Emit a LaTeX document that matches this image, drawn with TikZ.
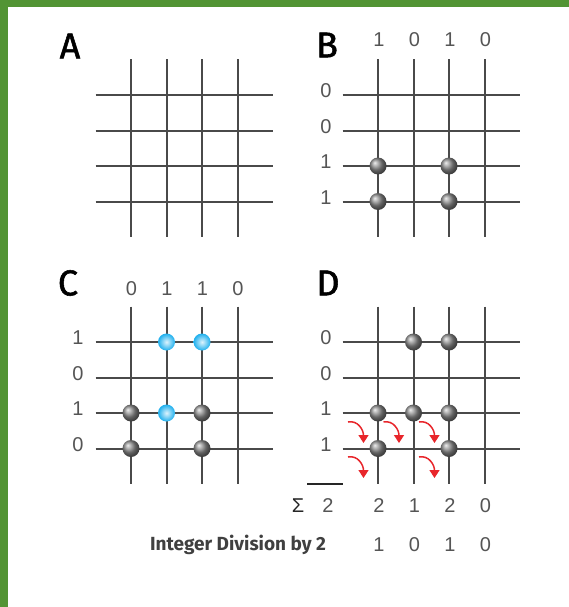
\documentclass[tikz,border=0pt]{standalone}
\usepackage{fontspec}
\setmainfont{Liberation Sans}
\newfontfamily\handfont{Fira Sans}
\newfontfamily\letterfont[FakeBold=1.5]{Fira Sans}
\usetikzlibrary{arrows.meta}
\definecolor{frame}{HTML}{529434}
\definecolor{wire}{HTML}{4A4A4A}
\definecolor{digit}{HTML}{555555}
\definecolor{bead}{HTML}{1FB0EE}
\definecolor{carry}{HTML}{E8262B}
\tikzset{
  wire/.style={draw=wire, line width=2pt},
  ball/.style={circle, inner sep=0pt, minimum size=17pt, shading=ball, ball color=gray!90},
  blueball/.style={circle, inner sep=0pt, minimum size=17pt, shading=radial, inner color=bead!15!white, outer color=bead},
  digit/.style={text=digit, font=\fontsize{20}{22}\selectfont, inner sep=0pt},
  panel/.style={font=\letterfont\fontsize{36}{40}\selectfont, inner sep=0pt},
  carryarrow/.style={draw=carry, line width=1.5pt, -{Triangle[length=8pt,width=10pt]}}
}
\begin{document}
\begin{tikzpicture}[x=1pt, y=-1pt]
\useasboundingbox (0,0) rectangle (569,607);
\fill[white] (0,0) rectangle (569,607);
% green frame
\fill[frame] (0,0) rectangle (569,7);
\fill[frame] (0,0) rectangle (8,607);

% four grids
\foreach \ox/\oy in {0/0, 247/0, 0/247, 247/247}{
  \foreach \i in {1,...,4}{
    \draw[wire] (\ox+95.5+\i*35.5, \oy+59.5) -- ++(0,177.5);
    \draw[wire] (\ox+95.5, \oy+59.5+\i*35.5) -- ++(177.5,0);
  }
}

% panel letters
\node[panel] (la) at (70,46) {A};
\node[panel] (lb) at (327,45) {B};
\node[panel] (lc) at (68,283) {C};
\node[panel] (ld) at (328,283) {D};

% B
\node[digit] (b1) at (379,40) {1};
\node[digit] (b2) at (414.5,40) {0};
\node[digit] (b3) at (450,40) {1};
\node[digit] (b4) at (485.5,40) {0};
\node[digit] (br1) at (326,91) {0};
\node[digit] (br2) at (326,126.5) {0};
\node[digit] (br3) at (326,162) {1};
\node[digit] (br4) at (326,197.5) {1};
\node[ball] (bp1) at (378,166) {};
\node[ball] (bp2) at (449,166) {};
\node[ball] (bp3) at (378,201.5) {};
\node[ball] (bp4) at (449,201.5) {};

% C
\node[digit] (c1) at (131.5,289) {0};
\node[digit] (c2) at (167,289) {1};
\node[digit] (c3) at (202.5,289) {1};
\node[digit] (c4) at (238,289) {0};
\node[digit] (cr1) at (78,338) {1};
\node[digit] (cr2) at (78,373.5) {0};
\node[digit] (cr3) at (78,409) {1};
\node[digit] (cr4) at (78,444.5) {0};
\node[blueball] (cq1) at (166.5,342) {};
\node[blueball] (cq2) at (202,342) {};
\node[blueball] (cq3) at (166.5,413) {};
\node[ball] (cp1) at (131,413) {};
\node[ball] (cp2) at (202,413) {};
\node[ball] (cp3) at (131,448.5) {};
\node[ball] (cp4) at (202,448.5) {};

% D
\node[digit] (dr1) at (326,338) {0};
\node[digit] (dr2) at (326,373.5) {0};
\node[digit] (dr3) at (326,409) {1};
\node[digit] (dr4) at (326,444.5) {1};
\node[ball] (dp1) at (413.5,342) {};
\node[ball] (dp2) at (449,342) {};
\node[ball] (dp3) at (378,413) {};
\node[ball] (dp4) at (413.5,413) {};
\node[ball] (dp5) at (449,413) {};
\node[ball] (dp6) at (378,448.5) {};
\node[ball] (dp7) at (449,448.5) {};

% carries
\foreach \x [count=\k] in {378,413.5,449}{
  \coordinate (s\k) at (\x-30,422);
  \coordinate (t\k) at (\x-14.5,443);
  \draw[carryarrow] (s\k) .. controls +(10,-2) and +(0,-13) .. (t\k);
}
\foreach \x [count=\k] in {378,449}{
  \coordinate (u\k) at (\x-30,457);
  \coordinate (v\k) at (\x-14.5,478);
  \draw[carryarrow] (u\k) .. controls +(10,-2) and +(0,-13) .. (v\k);
}

% sums
\node[digit, text=black!85] (sig) at (298,506) {Σ};
\node[digit] (s0) at (328,506) {2};
\coordinate (o1) at (307,484);
\coordinate (o2) at (343,484);
\draw[line width=1.5pt, black!85] (o1) -- (o2);
\node[digit] (d1) at (379,506) {2};
\node[digit] (d2) at (414.5,506) {1};
\node[digit] (d3) at (450,506) {2};
\node[digit] (d4) at (485.5,506) {0};

% division
\node[font=\handfont\bfseries\fontsize{19}{21}\selectfont, text=black!75, inner sep=0pt] (div) at (238,545) {Integer Division by 2};
\node[digit] (e1) at (379,545) {1};
\node[digit] (e2) at (414.5,545) {0};
\node[digit] (e3) at (450,545) {1};
\node[digit] (e4) at (485.5,545) {0};
\end{tikzpicture}
\end{document}
